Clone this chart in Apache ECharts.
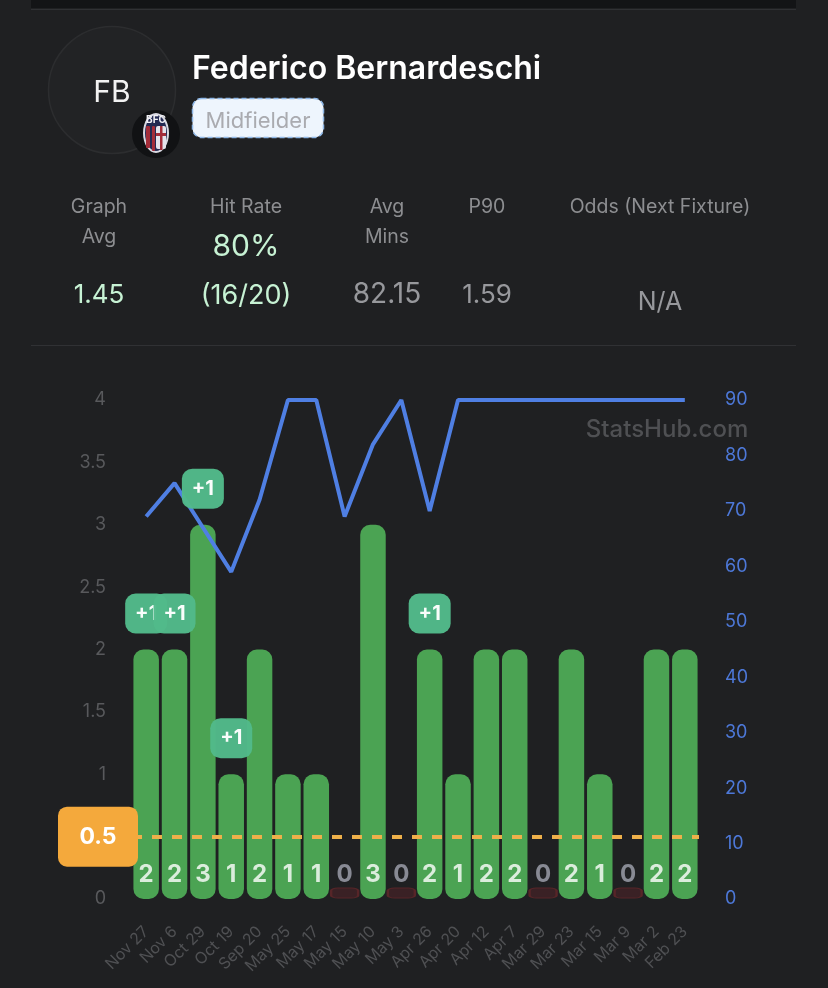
<!DOCTYPE html>
<html><head><meta charset="utf-8">
<style>html,body{margin:0;padding:0;background:#1f2022}#c{width:828px;height:988px}</style>
<script src="https://cdn.jsdelivr.net/npm/echarts@6/dist/echarts.min.js"></script>
</head><body><div id="c"></div>
<script>
const dates=['Nov 27','Nov 6','Oct 29','Oct 19','Sep 20','May 25','May 17','May 15','May 10','May 3','Apr 26','Apr 20','Apr 12','Apr 7','Mar 29','Mar 23','Mar 15','Mar 9','Mar 2','Feb 23'];
const stat=[2,2,3,1,2,1,1,0,3,0,2,1,2,2,0,2,1,0,2,2];
const minutes=[69,75,67,59,72,90,90,69,82,90,70,90,90,90,90,90,90,90,90,90];
const boost=[1,1,1,1,0,0,0,0,0,0,1,0,0,0,0,0,0,0,0,0];
const line=0.5;
const leftTicks={min:0,max:4,interval:0.5};
const rightTicks={min:0,max:90,interval:10};
const FONT='Inter';
const t=(x,y,text,fill,size,weight,align)=>({type:'text',x,y:y+4,z:20,style:{text,fill,font:(weight||400)+' '+size+'px '+FONT,textAlign:align||'center',textVerticalAlign:'middle'}});
const boostSeries=stat.map((v,i)=>boost[i]?{type:'scatter',name:'Boost '+dates[i],z:7+i,silent:true,
   data:[[i,v,'+'+boost[i]]],
   symbol:'roundRect',symbolSize:[42,40],symbolOffset:[0,-36],
   itemStyle:{color:'#52ba8a',opacity:0.97},
   label:{show:true,position:'inside',color:'#fff',fontFamily:FONT,fontSize:20,fontWeight:700,formatter:p=>p.value[2]}}:null).filter(Boolean);
const chart=echarts.init(document.getElementById('c'),null,{renderer:'canvas'});
chart.setOption({
 animation:false,backgroundColor:'#1f2022',
 grid:{left:132,right:129,top:400,bottom:89,containLabel:false},
 xAxis:{type:'category',data:dates,axisLine:{show:false},axisTick:{show:false},
  axisLabel:{interval:0,rotate:45,color:'#4f5053',fontSize:16,fontFamily:FONT,margin:30}},
 yAxis:[
  {type:'value',...leftTicks,position:'left',splitLine:{show:false},axisLine:{show:false},axisTick:{show:false},
   axisLabel:{color:'#58595c',fontSize:18,fontFamily:FONT,margin:26,align:'right',padding:[4,0,0,0]}},
  {type:'value',...rightTicks,position:'right',splitLine:{show:false},axisLine:{show:false},axisTick:{show:false},
   axisLabel:{color:'#4d78d8',fontSize:18,fontFamily:FONT,margin:26,align:'left',padding:[4,0,0,0]}}
 ],
 series:[
  {type:'bar',name:'Stat',data:stat,barWidth:25.5,z:2,
   itemStyle:{color:'#4ba353',borderRadius:[10,10,10,10]},
   markLine:{silent:true,symbol:'none',z:6,data:[{yAxis:line}],
    lineStyle:{color:'#eeb04a',type:[10,10],width:4},
    label:{show:true,position:'start',formatter:String(line),distance:34,color:'#fff',fontSize:23,fontWeight:700,fontFamily:FONT,
     backgroundColor:'#f4a93c',borderRadius:9,width:80,height:60,lineHeight:60,align:'center'}}},
  {type:'scatter',name:'Zero',z:2,silent:true,
   data:stat.map((v,i)=>v===0?[i,0]:null).filter(Boolean),
   symbol:'roundRect',symbolSize:[27,10],symbolOffset:[0,-6],
   itemStyle:{color:'#3a2125',borderColor:'#572528',borderWidth:1.5,opacity:1}},
  {type:'scatter',name:'Values',z:5,silent:true,
   data:stat.map((v,i)=>v>0?[i,0,v]:null).filter(Boolean),symbolSize:0,
   label:{show:true,position:'top',distance:12,fontFamily:FONT,fontSize:24,fontWeight:700,
    formatter:p=>p.value[2],color:'#fff'}},
  {type:'scatter',name:'ZeroLabels',z:6,silent:true,
   data:stat.map((v,i)=>v===0?[i,0,v]:null).filter(Boolean),symbolSize:0,
   label:{show:true,position:'top',distance:12,fontFamily:FONT,fontSize:24,fontWeight:700,
    formatter:p=>p.value[2],color:'#a3a5b2'}},
  {type:'line',name:'Minutes',yAxisIndex:1,data:minutes,z:3,symbol:'none',
   lineStyle:{color:'#4f7fe3',width:4},smooth:false},
  ...boostSeries
 ],
 graphic:{elements:[
  {type:'rect',z:1,shape:{x:31,y:0,width:765,height:8},style:{fill:'#131416'}},
  {type:'rect',z:1,shape:{x:31,y:9,width:765,height:1},style:{fill:'#303134'}},
  {type:'rect',z:1,shape:{x:31,y:345,width:765,height:1},style:{fill:'#303134'}},
  {type:'circle',z:2,shape:{cx:112,cy:90,r:63.5},style:{fill:'#222325',stroke:'#2c2d2f',lineWidth:1.5}},
  t(112,89,'FB','#f2f2f2',30,400),
  {type:'circle',z:3,shape:{cx:156,cy:134,r:24},style:{fill:'#111214'}},
  {type:'ellipse',z:4,shape:{cx:156,cy:133,rx:13,ry:20},style:{fill:'#d9d9e2'}},
  {type:'ellipse',z:5,shape:{cx:156,cy:133,rx:11,ry:18},style:{fill:'#232a52'}},
  {type:'rect',z:6,shape:{x:146,y:126,width:4,height:22,r:1},style:{fill:'#a32d3a'}},
  {type:'rect',z:6,shape:{x:152,y:126,width:3,height:25,r:1},style:{fill:'#a32d3a'}},
  {type:'rect',z:6,shape:{x:156,y:126,width:10,height:23,r:2},style:{fill:'#e4e4ec'}},
  {type:'rect',z:7,shape:{x:160,y:126,width:2.5,height:24},style:{fill:'#a32d3a'}},
  {type:'rect',z:7,shape:{x:156,y:133,width:10,height:3},style:{fill:'#a32d3a'}},
  {type:'text',x:156,y:120,z:8,style:{text:'BFC',fill:'#f1f1f6',font:'700 10px '+FONT,textAlign:'center',textVerticalAlign:'middle'}},
  t(192,65,'Federico Bernardeschi','#ffffff',32,600,'left'),
  {type:'rect',z:3,shape:{x:192.5,y:98.5,width:131,height:39,r:9},style:{fill:'#eef5fd',stroke:'#8fb8e8',lineWidth:1.5,lineDash:[5,3]}},
  t(258,117,'Midfielder','#aaabb0',22,400),
  t(99,203,'Graph','#8d8e91',19.5), t(99,233,'Avg','#8d8e91',19.5),
  t(246,203,'Hit Rate','#8d8e91',19.5),
  t(246,243,'80%','#c7f2d4',30), t(246,292,'(16/20)','#c7f2d4',27),
  t(99,291,'1.45','#c7f2d4',26),
  t(387,203,'Avg','#8d8e91',19.5), t(387,233,'Mins','#8d8e91',19.5),
  t(387,291,'82.15','#97989c',28),
  t(487,203,'P90','#8d8e91',19.5), t(487,291,'1.59','#97989c',26),
  t(660,203,'Odds (Next Fixture)','#8d8e91',19.5),
  t(660,298,'N/A','#97989c',25),
  t(667,426,'StatsHub.com','#4f5053',24,500)
 ]}
});
</script></body></html>
